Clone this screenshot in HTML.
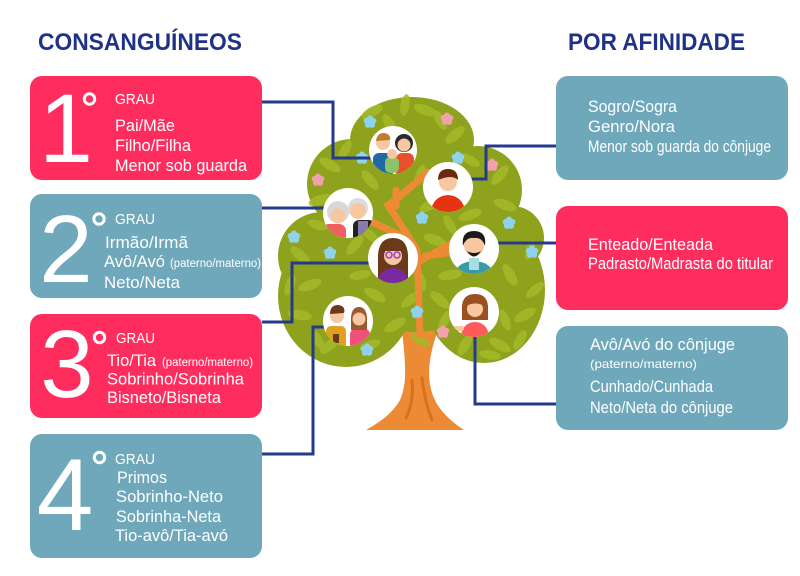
<!DOCTYPE html>
<html><head><meta charset="utf-8">
<style>
html,body{margin:0;padding:0;background:#fff;}
svg{display:block;}
text{font-family:"Liberation Sans",sans-serif;}
</style></head>
<body>
<svg width="800" height="576" viewBox="0 0 800 576" xmlns="http://www.w3.org/2000/svg">
<defs>
<clipPath id="c1"><circle cx="393" cy="150" r="24"/></clipPath>
<clipPath id="c2"><circle cx="448" cy="187" r="25"/></clipPath>
<clipPath id="c3"><circle cx="348" cy="213" r="25"/></clipPath>
<clipPath id="c4"><circle cx="393" cy="258" r="25"/></clipPath>
<clipPath id="c5"><circle cx="474" cy="249" r="25"/></clipPath>
<clipPath id="c6"><circle cx="348" cy="321" r="25"/></clipPath>
<clipPath id="c7"><circle cx="474" cy="312" r="25"/></clipPath>
<g id="fb"><circle cx="0" cy="-3.5" r="3" fill="#8fd2ec"/><circle cx="3.3" cy="-1.1" r="3" fill="#8fd2ec"/><circle cx="2.1" cy="2.9" r="3" fill="#8fd2ec"/><circle cx="-2.1" cy="2.9" r="3" fill="#8fd2ec"/><circle cx="-3.3" cy="-1.1" r="3" fill="#8fd2ec"/><circle r="2.5" fill="#8fd2ec"/></g>
<g id="fp"><circle cx="0" cy="-3.5" r="3" fill="#f2a0ac"/><circle cx="3.3" cy="-1.1" r="3" fill="#f2a0ac"/><circle cx="2.1" cy="2.9" r="3" fill="#f2a0ac"/><circle cx="-2.1" cy="2.9" r="3" fill="#f2a0ac"/><circle cx="-3.3" cy="-1.1" r="3" fill="#f2a0ac"/><circle r="2.5" fill="#f2a0ac"/></g>
</defs>

<!-- Headings -->
<text x="38" y="50" font-size="24" font-weight="bold" fill="#1f3287" textLength="204" lengthAdjust="spacingAndGlyphs">CONSANGUÍNEOS</text>
<text x="568" y="50" font-size="24" font-weight="bold" fill="#1f3287" textLength="177" lengthAdjust="spacingAndGlyphs">POR AFINIDADE</text>

<!-- Left boxes -->
<rect x="30" y="76" width="232" height="104" rx="12" fill="#ff2d5e"/>
<rect x="30" y="194" width="232" height="104" rx="12" fill="#6fa8bb"/>
<rect x="30" y="314" width="232" height="104" rx="12" fill="#ff2d5e"/>
<rect x="30" y="434" width="232" height="124" rx="12" fill="#6fa8bb"/>

<!-- Right boxes -->
<rect x="556" y="76" width="232" height="104" rx="12" fill="#6fa8bb"/>
<rect x="556" y="206" width="232" height="104" rx="12" fill="#ff2d5e"/>
<rect x="556" y="326" width="232" height="104" rx="12" fill="#6fa8bb"/>

<!-- Box 1 -->
<g fill="#fff">
<text x="66" y="162" font-size="97" text-anchor="middle">1</text>
<circle cx="89.5" cy="99" r="5.2" fill="none" stroke="#fff" stroke-width="3"/>
<text x="115" y="104" font-size="15" textLength="40" lengthAdjust="spacingAndGlyphs">GRAU</text>
<text x="115" y="131" font-size="17" textLength="60" lengthAdjust="spacingAndGlyphs">Pai/Mãe</text>
<text x="115" y="151" font-size="17" textLength="76" lengthAdjust="spacingAndGlyphs">Filho/Filha</text>
<text x="115" y="171" font-size="17" textLength="132" lengthAdjust="spacingAndGlyphs">Menor sob guarda</text>
</g>

<!-- Box 2 -->
<g fill="#fff">
<text x="66" y="282" font-size="96" text-anchor="middle">2</text>
<circle cx="99" cy="219" r="5.2" fill="none" stroke="#fff" stroke-width="3"/>
<text x="115" y="224" font-size="15" textLength="40" lengthAdjust="spacingAndGlyphs">GRAU</text>
<text x="105" y="248" font-size="17" textLength="83" lengthAdjust="spacingAndGlyphs">Irmão/Irmã</text>
<text x="104" y="267" font-size="17" textLength="61" lengthAdjust="spacingAndGlyphs">Avô/Avó</text>
<text x="170" y="267" font-size="11.5" textLength="91" lengthAdjust="spacingAndGlyphs">(paterno/materno)</text>
<text x="104" y="288" font-size="17" textLength="76" lengthAdjust="spacingAndGlyphs">Neto/Neta</text>
</g>

<!-- Box 3 -->
<g fill="#fff">
<text x="67" y="397" font-size="96" text-anchor="middle">3</text>
<circle cx="99.5" cy="337.5" r="5.2" fill="none" stroke="#fff" stroke-width="3"/>
<text x="116" y="343" font-size="15" textLength="39" lengthAdjust="spacingAndGlyphs">GRAU</text>
<text x="107" y="366" font-size="17" textLength="49" lengthAdjust="spacingAndGlyphs">Tio/Tia</text>
<text x="162" y="366" font-size="11.5" textLength="91" lengthAdjust="spacingAndGlyphs">(paterno/materno)</text>
<text x="107" y="384.5" font-size="17" textLength="137" lengthAdjust="spacingAndGlyphs">Sobrinho/Sobrinha</text>
<text x="107" y="403" font-size="17" textLength="114" lengthAdjust="spacingAndGlyphs">Bisneto/Bisneta</text>
</g>

<!-- Box 4 -->
<g fill="#fff">
<text x="65" y="530" font-size="102" text-anchor="middle">4</text>
<circle cx="99.5" cy="457.5" r="5.2" fill="none" stroke="#fff" stroke-width="3"/>
<text x="115" y="464" font-size="15" textLength="40" lengthAdjust="spacingAndGlyphs">GRAU</text>
<text x="117" y="483" font-size="17" textLength="50" lengthAdjust="spacingAndGlyphs">Primos</text>
<text x="116" y="502" font-size="17" textLength="107" lengthAdjust="spacingAndGlyphs">Sobrinho-Neto</text>
<text x="116" y="522" font-size="17" textLength="105" lengthAdjust="spacingAndGlyphs">Sobrinha-Neta</text>
<text x="115" y="541" font-size="17" textLength="113" lengthAdjust="spacingAndGlyphs">Tio-avô/Tia-avó</text>
</g>

<!-- Right box texts -->
<g fill="#fff">
<text x="588" y="112" font-size="16.5" textLength="89" lengthAdjust="spacingAndGlyphs">Sogro/Sogra</text>
<text x="588" y="132" font-size="16.5" textLength="87" lengthAdjust="spacingAndGlyphs">Genro/Nora</text>
<text x="588" y="152" font-size="16.5" textLength="183" lengthAdjust="spacingAndGlyphs">Menor sob guarda do cônjuge</text>
<text x="588" y="250" font-size="16.5" textLength="125" lengthAdjust="spacingAndGlyphs">Enteado/Enteada</text>
<text x="588" y="269" font-size="16.5" textLength="185" lengthAdjust="spacingAndGlyphs">Padrasto/Madrasta do titular</text>
<text x="590" y="350" font-size="16.5" textLength="145" lengthAdjust="spacingAndGlyphs">Avô/Avó do cônjuge</text>
<text x="590" y="368" font-size="12" textLength="107" lengthAdjust="spacingAndGlyphs">(paterno/materno)</text>
<text x="590" y="392" font-size="16.5" textLength="123" lengthAdjust="spacingAndGlyphs">Cunhado/Cunhada</text>
<text x="590" y="413" font-size="16.5" textLength="143" lengthAdjust="spacingAndGlyphs">Neto/Neta do cônjuge</text>
</g>

<!-- Tree trunk -->
<path d="M402,330 C405,360 408,382 400,400 C392,414 380,422 366,430 L464,430 C452,422 440,412 434,398 C426,380 428,358 438,330 Z" fill="#ec8a35"/>
<path d="M412,380 C414,396 410,410 406,418 M422,378 C424,396 428,410 432,420" stroke="#d9701c" stroke-width="3" fill="none" stroke-linecap="round"/>

<!-- Canopy -->
<g fill="#8fa21d">
<ellipse cx="412" cy="140" rx="62" ry="43"/>
<circle cx="352" cy="184" r="45"/>
<circle cx="478" cy="190" r="44"/>
<circle cx="322" cy="256" r="44"/>
<ellipse cx="346" cy="296" rx="68" ry="71"/>
<ellipse cx="484" cy="290" rx="61" ry="73"/>
<ellipse cx="415" cy="240" rx="92" ry="92"/>
<circle cx="512" cy="238" r="32"/>
</g>
<!-- leaves -->
<g fill="#a3ba28" opacity="0.85">
<ellipse cx="372" cy="112" rx="12" ry="5" transform="rotate(-30 372 112)"/>
<ellipse cx="425" cy="110" rx="12" ry="5" transform="rotate(20 425 110)"/>
<ellipse cx="455" cy="135" rx="12" ry="5" transform="rotate(-40 455 135)"/>
<ellipse cx="330" cy="165" rx="12" ry="5" transform="rotate(30 330 165)"/>
<ellipse cx="320" cy="200" rx="12" ry="5" transform="rotate(-20 320 200)"/>
<ellipse cx="370" cy="180" rx="12" ry="5" transform="rotate(50 370 180)"/>
<ellipse cx="500" cy="175" rx="12" ry="5" transform="rotate(-50 500 175)"/>
<ellipse cx="505" cy="205" rx="12" ry="5" transform="rotate(20 505 205)"/>
<ellipse cx="430" cy="205" rx="12" ry="5" transform="rotate(-30 430 205)"/>
<ellipse cx="300" cy="255" rx="12" ry="5" transform="rotate(40 300 255)"/>
<ellipse cx="310" cy="285" rx="12" ry="5" transform="rotate(-20 310 285)"/>
<ellipse cx="300" cy="315" rx="12" ry="5" transform="rotate(10 300 315)"/>
<ellipse cx="330" cy="345" rx="12" ry="5" transform="rotate(-40 330 345)"/>
<ellipse cx="375" cy="295" rx="12" ry="5" transform="rotate(30 375 295)"/>
<ellipse cx="395" cy="325" rx="12" ry="5" transform="rotate(-30 395 325)"/>
<ellipse cx="440" cy="300" rx="12" ry="5" transform="rotate(40 440 300)"/>
<ellipse cx="450" cy="275" rx="12" ry="5" transform="rotate(-10 450 275)"/>
<ellipse cx="510" cy="275" rx="12" ry="5" transform="rotate(60 510 275)"/>
<ellipse cx="525" cy="315" rx="12" ry="5" transform="rotate(-30 525 315)"/>
<ellipse cx="500" cy="345" rx="12" ry="5" transform="rotate(30 500 345)"/>
<ellipse cx="465" cy="345" rx="12" ry="5" transform="rotate(-60 465 345)"/>
<ellipse cx="420" cy="280" rx="12" ry="5" transform="rotate(70 420 280)"/>
<ellipse cx="355" cy="245" rx="12" ry="5" transform="rotate(-50 355 245)"/>
<ellipse cx="435" cy="240" rx="12" ry="5" transform="rotate(20 435 240)"/>
<ellipse cx="470" cy="215" rx="12" ry="5" transform="rotate(-20 470 215)"/>
<ellipse cx="390" cy="125" rx="12" ry="5" transform="rotate(60 390 125)"/>
<ellipse cx="530" cy="250" rx="10" ry="4" transform="rotate(-70 530 250)"/>
<ellipse cx="405" cy="105" rx="11" ry="4.5" transform="rotate(-80 405 105)"/>
<ellipse cx="440" cy="120" rx="11" ry="4.5" transform="rotate(60 440 120)"/>
<ellipse cx="345" cy="150" rx="11" ry="4.5" transform="rotate(-60 345 150)"/>
<ellipse cx="318" cy="225" rx="11" ry="4.5" transform="rotate(15 318 225)"/>
<ellipse cx="290" cy="285" rx="11" ry="4.5" transform="rotate(-70 290 285)"/>
<ellipse cx="360" cy="275" rx="11" ry="4.5" transform="rotate(-10 360 275)"/>
<ellipse cx="318" cy="340" rx="11" ry="4.5" transform="rotate(60 318 340)"/>
<ellipse cx="370" cy="345" rx="11" ry="4.5" transform="rotate(-20 370 345)"/>
<ellipse cx="420" cy="340" rx="11" ry="4.5" transform="rotate(30 420 340)"/>
<ellipse cx="445" cy="320" rx="11" ry="4.5" transform="rotate(-60 445 320)"/>
<ellipse cx="505" cy="320" rx="11" ry="4.5" transform="rotate(70 505 320)"/>
<ellipse cx="535" cy="290" rx="11" ry="4.5" transform="rotate(-40 535 290)"/>
<ellipse cx="490" cy="355" rx="11" ry="4.5" transform="rotate(10 490 355)"/>
<ellipse cx="520" cy="340" rx="11" ry="4.5" transform="rotate(-60 520 340)"/>
<ellipse cx="410" cy="300" rx="11" ry="4.5" transform="rotate(-40 410 300)"/>
<ellipse cx="370" cy="235" rx="11" ry="4.5" transform="rotate(40 370 235)"/>
<ellipse cx="450" cy="225" rx="11" ry="4.5" transform="rotate(60 450 225)"/>
<ellipse cx="470" cy="160" rx="11" ry="4.5" transform="rotate(30 470 160)"/>
<ellipse cx="420" cy="175" rx="11" ry="4.5" transform="rotate(-70 420 175)"/>
<ellipse cx="340" cy="310" rx="11" ry="4.5" transform="rotate(20 340 310)"/>
</g>

<!-- Branches -->
<g stroke="#ec8a35" stroke-width="7" fill="none" stroke-linecap="round">
<path d="M420,335 L417,250 L388,205 L398,198 L428,172"/>
<path d="M410,240 L372,222"/>
<path d="M418,262 L452,243"/>
<path d="M425,256 L470,250"/>
<path d="M396,206 L396,190"/>
</g>

<!-- Flowers -->
<use href="#fb" x="370" y="122"/>
<use href="#fb" x="362" y="158"/>
<use href="#fb" x="458" y="158"/>
<use href="#fb" x="422" y="218"/>
<use href="#fb" x="294" y="237"/>
<use href="#fb" x="330" y="253"/>
<use href="#fb" x="509" y="223"/>
<use href="#fb" x="532" y="252"/>
<use href="#fb" x="417" y="312"/>
<use href="#fb" x="367" y="350"/>
<use href="#fp" x="447" y="119"/>
<use href="#fp" x="318" y="180"/>
<use href="#fp" x="492" y="165"/>
<use href="#fp" x="443" y="332"/>

<!-- Connectors -->
<g stroke="#253a8c" stroke-width="3" fill="none">
<path d="M262,102 H333 V158 H372"/>
<path d="M262,208 H325"/>
<path d="M262,322 H292 V263 H370"/>
<path d="M262,454 H313 V327 H326"/>
<path d="M556,146 H486 V179 H470"/>
<path d="M556,243 H497"/>
<path d="M556,404 H475 V336"/>
</g>

<!-- Portrait circles -->
<!-- 1 family -->
<circle cx="393" cy="150" r="24" fill="#fff"/>
<g clip-path="url(#c1)">
<rect x="373" y="153" width="20" height="25" rx="6" fill="#1f6aa5"/>
<rect x="396" y="153" width="18" height="25" rx="6" fill="#e8502c"/>
<circle cx="383" cy="143" r="7" fill="#f6c7a0"/>
<path d="M376,141 Q377,133 384,133 Q391,134 390,140 Z" fill="#c27a2e"/>
<circle cx="404" cy="143" r="9" fill="#2a2a2a"/>
<circle cx="404" cy="145" r="6.5" fill="#f6c7a0"/>
<rect x="385" y="157" width="14" height="16" rx="5" fill="#8cc26a"/>
<circle cx="392" cy="154" r="5" fill="#f6c7a0"/>
</g>
<!-- 2 boy -->
<circle cx="448" cy="187" r="25" fill="#fff"/>
<g clip-path="url(#c2)">
<path d="M430,215 Q432,196 448,195 Q464,196 466,215 Z" fill="#e63312"/>
<circle cx="448" cy="182" r="9" fill="#f6c7a0"/>
<path d="M438,180 Q438,169 448,169 Q458,169 458,180 Q452,174 438,180 Z" fill="#6b2a10"/>
</g>
<!-- 3 grandparents -->
<circle cx="348" cy="213" r="25" fill="#fff"/>
<g clip-path="url(#c3)">
<rect x="353" y="220" width="22" height="25" rx="6" fill="#222"/>
<rect x="358" y="221" width="10" height="20" fill="#8a7ab0"/>
<rect x="322" y="224" width="24" height="25" rx="7" fill="#f06060"/>
<circle cx="358" cy="208" r="10" fill="#dcdcdc"/>
<circle cx="358" cy="211" r="8" fill="#f6c7a0"/>
<circle cx="338" cy="212" r="11" fill="#d8d8d8"/>
<circle cx="338" cy="216" r="7.5" fill="#f6c7a0"/>
</g>
<!-- 4 woman glasses -->
<circle cx="393" cy="258" r="25" fill="#fff"/>
<g clip-path="url(#c4)">
<path d="M378,285 L378,255 Q379,238 393,238 Q407,238 408,255 L408,285 Z" fill="#6b3a1a"/>
<circle cx="393" cy="256" r="9" fill="#f6c7a0"/>
<rect x="385" y="245" width="16" height="6" fill="#6b3a1a"/>
<path d="M376,285 Q380,268 393,268 Q406,268 410,285 Z" fill="#7a2aa0"/>
<circle cx="389" cy="255" r="3" fill="none" stroke="#9b3fc2" stroke-width="1.5"/>
<circle cx="397" cy="255" r="3" fill="none" stroke="#9b3fc2" stroke-width="1.5"/>
</g>
<!-- 5 bearded man -->
<circle cx="474" cy="249" r="25" fill="#fff"/>
<g clip-path="url(#c5)">
<path d="M454,276 Q456,262 474,261 Q492,262 494,276 Z" fill="#3a9aa8"/>
<rect x="469" y="258" width="10" height="12" fill="#a8dde2"/>
<circle cx="474" cy="246" r="10" fill="#f6c7a0"/>
<path d="M463,246 Q461,231 474,231 Q487,231 485,246 Q482,237 474,238 Q466,237 463,246 Z" fill="#1a1a1a"/>
<path d="M467,251 Q474,262 481,251 Q474,255 467,251 Z" fill="#1a1a1a"/>
</g>
<!-- 6 couple -->
<circle cx="348" cy="321" r="25" fill="#fff"/>
<g clip-path="url(#c6)">
<rect x="326" y="326" width="20" height="25" rx="5" fill="#e0a020"/>
<rect x="350" y="329" width="20" height="25" rx="5" fill="#f0507a"/>
<circle cx="337" cy="316" r="7" fill="#f6c7a0"/>
<path d="M330,314 Q330,305 338,305 Q346,306 344,313 Z" fill="#6b3a1a"/>
<path d="M351,330 L351,317 Q352,307 359,307 Q366,307 367,317 L367,330 Z" fill="#9a5a30"/>
<circle cx="359" cy="319" r="6.5" fill="#f6c7a0"/>
<rect x="333" y="334" width="6" height="9" fill="#6b3a1a"/>
</g>
<!-- 7 girl -->
<circle cx="474" cy="312" r="25" fill="#fff"/>
<g clip-path="url(#c7)">
<path d="M462,320 L462,306 Q463,294 475,294 Q487,294 488,306 L488,320 Z" fill="#9a5020"/>
<path d="M460,340 Q462,322 475,322 Q488,322 490,340 Z" fill="#ff5a5a"/>
<rect x="450" y="326" width="14" height="5" rx="2.5" fill="#f6c7a0"/>
<circle cx="475" cy="309" r="8" fill="#f6c7a0"/>
<path d="M466,306 Q467,298 475,298 Q484,298 484,306 Q476,301 466,306 Z" fill="#9a5020"/>
</g>
</svg>
</body></html>
